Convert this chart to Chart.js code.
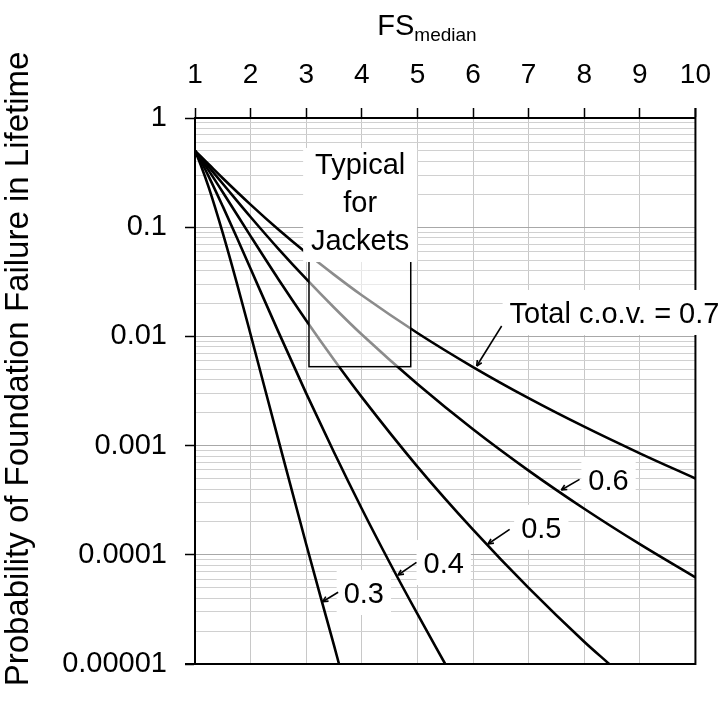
<!DOCTYPE html>
<html>
<head>
<meta charset="utf-8">
<script src="https://cdn.jsdelivr.net/npm/chart.js@4.4.1/dist/chart.umd.min.js"></script>
<style>
  body { margin: 0; background: #fff; }
  canvas { display: block; }
</style>
</head>
<body>
<canvas id="chart" width="727" height="706"></canvas>
<script>
// ===== Data =====
const xTicks = [1, 2, 3, 4, 5, 6, 7, 8, 9, 10];
const yDecades = [1, 0.1, 0.01, 0.001, 0.0001, 0.00001];
const yDecadeLabels = ["1", "0.1", "0.01", "0.001", "0.0001", "0.00001"];
const yMinor = [2, 3, 4, 5, 6, 7, 8, 9];

const fs07 = [1, 1.1, 1.25, 1.5, 2, 2.5, 3, 3.5, 4, 5, 6, 7, 8, 9, 10];
const p07 = [0.5, 0.446, 0.375, 0.281, 0.161, 0.0952, 0.0583, 0.0368, 0.0238, 0.01075, 0.00524, 0.00272, 0.00149, 0.00085, 0.0005];

const fs06 = [1, 1.1, 1.25, 1.5, 2, 2.5, 3, 3.5, 4, 5, 6, 7, 8, 9, 10];
const p06 = [0.5, 0.437, 0.355, 0.25, 0.124, 0.0634, 0.0336, 0.0184, 0.0104, 0.00366, 0.00141, 0.00059, 0.000264, 0.000125, 0.000062];

const fs05 = [1, 1.1, 1.25, 1.5, 2, 2.5, 3, 3.5, 4, 5, 6, 7, 8, 8.45];
const p05 = [0.5, 0.424, 0.328, 0.209, 0.0828, 0.0334, 0.014, 0.00611, 0.00278, 0.000643, 0.00017, 0.0000497, 0.000016, 0.00001];

const fs04 = [1, 1.1, 1.25, 1.5, 1.75, 2, 2.5, 3, 3.5, 4, 4.5, 5, 5.5];
const p04 = [0.5, 0.406, 0.289, 0.155, 0.0809, 0.0416, 0.011, 0.00301, 0.000868, 0.000264, 0.000085, 0.0000287, 0.00001];

const fs03 = [1, 1.1, 1.25, 1.5, 1.75, 2, 2.5, 3, 3.25, 3.5, 3.59];
const p03 = [0.5, 0.375, 0.229, 0.0883, 0.0311, 0.0104, 0.00113, 0.000125, 0.0000427, 0.0000148, 0.00001];

// curve labels: text, text position (FS, P at baseline), leader from -> to
const curveLabels = [
  { text: "Total c.o.v. = 0.7", x: 8.545, y: 0.01327, from: [6.515, 0.01245], to: [6.066, 0.00536] },
  { text: "0.6", x: 8.437, y: 0.000392, from: [7.916, 0.000491], to: [7.588, 0.000392] },
  { text: "0.5", x: 7.228, y: 0.000143, from: [6.659, 0.000171], to: [6.269, 0.0001256] },
  { text: "0.4", x: 5.473, y: 0.0000681, from: [4.983, 0.0000853], to: [4.652, 0.0000653] },
  { text: "0.3", x: 4.036, y: 0.0000362, from: [3.574, 0.0000454], to: [3.294, 0.0000372] }
];

// "Typical for Jackets" box
const jacketBox = { x0: 3.05, x1: 4.88, yTop: 0.06, yBottom: 0.00528 };
const jacketText = ["Typical", "for", "Jackets"];
const jacketBaselines = [0.307, 0.1378, 0.0618];
const jacketCenter = 3.97;

const FONT = "'Liberation Sans', Arial, sans-serif";

// ===== Build ticks =====
const yTickValues = [];
yDecades.forEach(d => {
  yTickValues.push(d);
  if (d < 1) yMinor.forEach(m => yTickValues.push(+(m * d).toPrecision(3)));
});

function isDecade(v) {
  const l = Math.log10(v);
  return Math.abs(l - Math.round(l)) < 1e-6;
}

function series(xs, ys) {
  return {
    data: xs.map((x, i) => ({ x, y: ys[i] })),
    borderColor: "#000",
    borderWidth: 2.6,
    pointRadius: 0,
    cubicInterpolationMode: "monotone",
    fill: false
  };
}

// ===== Annotations plugin =====
const annotations = {
  id: "annotations",
  afterDatasetsDraw(chart) {
    const c = chart.ctx;
    const xs = chart.scales.x, ys = chart.scales.y;
    const a = chart.chartArea;
    const px = v => xs.getPixelForValue(v);
    const py = v => ys.getPixelForValue(v);

    c.save();
    // right & bottom frame
    c.strokeStyle = "#000";
    c.lineWidth = 2;
    c.beginPath();
    c.moveTo(a.right, a.top - 10);
    c.lineTo(a.right, a.bottom);
    c.lineTo(a.left - 10, a.bottom);
    c.stroke();

    // jacket box (semi-transparent)
    const bx0 = px(jacketBox.x0), bx1 = px(jacketBox.x1);
    const by0 = py(jacketBox.yTop), by1 = py(jacketBox.yBottom);
    c.fillStyle = "rgba(255,255,255,0.55)";
    c.fillRect(bx0, by0, bx1 - bx0, by1 - by0);
    c.lineWidth = 1.5;
    c.strokeRect(bx0, by0, bx1 - bx0, by1 - by0);

    // jacket label
    c.font = "29px " + FONT;
    c.textAlign = "center";
    c.textBaseline = "alphabetic";
    const jc = px(jacketCenter);
    const jTop = py(jacketBaselines[0]) - 26;
    const jBot = py(jacketBaselines[2]) + 12;
    c.fillStyle = "#fff";
    c.fillRect(jc - 57, jTop, 114, jBot - jTop);
    c.fillStyle = "#000";
    jacketText.forEach((t, i) => c.fillText(t, jc, py(jacketBaselines[i])));

    // curve labels
    curveLabels.forEach(l => {
      const tx = px(l.x), ty = py(l.y);
      const w = c.measureText(l.text).width;
      c.fillStyle = "#fff";
      c.fillRect(tx - w / 2 - 7, ty - 33, w + 14, 45);
      c.fillStyle = "#000";
      c.fillText(l.text, tx, ty);

      const x1 = px(l.from[0]), y1 = py(l.from[1]);
      const x2 = px(l.to[0]), y2 = py(l.to[1]);
      c.lineWidth = 1.6;
      c.beginPath();
      c.moveTo(x1, y1);
      c.lineTo(x2, y2);
      c.stroke();
      const ang = Math.atan2(y2 - y1, x2 - x1);
      c.beginPath();
      c.moveTo(x2, y2);
      c.lineTo(x2 - 6 * Math.cos(ang - 0.45), y2 - 6 * Math.sin(ang - 0.45));
      c.moveTo(x2, y2);
      c.lineTo(x2 - 6 * Math.cos(ang + 0.45), y2 - 6 * Math.sin(ang + 0.45));
      c.stroke();
    });
    c.restore();
  },
  afterDraw(chart) {
    const c = chart.ctx;
    const a = chart.chartArea;
    c.save();
    c.fillStyle = "#000";
    // x title: FS with subscript
    c.textBaseline = "alphabetic";
    c.textAlign = "left";
    c.font = "29px " + FONT;
    const fsW = c.measureText("FS").width;
    c.font = "19px " + FONT;
    const subW = c.measureText("median").width;
    const cx = 427;
    const startX = cx - (fsW + subW) / 2;
    c.font = "29px " + FONT;
    c.fillText("FS", startX, 35);
    c.font = "19px " + FONT;
    c.fillText("median", startX + fsW, 41);

    // y title
    c.font = "33px " + FONT;
    c.translate(28, 369);
    c.rotate(-Math.PI / 2);
    c.textAlign = "center";
    c.fillText("Probability of Foundation Failure in Lifetime", 0, 0);
    c.restore();
  }
};

// ===== Chart =====
new Chart(document.getElementById("chart"), {
  type: "line",
  data: {
    datasets: [
      series(fs07, p07),
      series(fs06, p06),
      series(fs05, p05),
      series(fs04, p04),
      series(fs03, p03)
    ]
  },
  options: {
    responsive: false,
    animation: false,
    layout: { padding: { left: 0, top: 0, right: 31, bottom: 42 } },
    plugins: { legend: { display: false }, tooltip: { enabled: false } },
    scales: {
      x: {
        type: "linear",
        position: "top",
        min: 1,
        max: 10,
        afterBuildTicks: s => { s.ticks = xTicks.map(v => ({ value: v })); },
        afterFit: s => { s.height = 118; },
        ticks: {
          color: "#000",
          font: { family: FONT, size: 28 },
          padding: 16,
          maxRotation: 0,
          autoSkip: false
        },
        grid: { color: "#c8c8c8", lineWidth: 1, tickColor: "#000", tickLength: 10, tickWidth: 1.5 },
        border: { color: "#000", width: 2 }
      },
      y: {
        type: "logarithmic",
        min: 0.00001,
        max: 1,
        afterBuildTicks: s => { s.ticks = yTickValues.map(v => ({ value: v })); },
        afterFit: s => { s.width = 195; },
        ticks: {
          color: "#000",
          font: { family: FONT, size: 29 },
          padding: 18,
          autoSkip: false,
          callback: v => {
            const i = yDecades.indexOf(v);
            return i >= 0 ? yDecadeLabels[i] : "";
          }
        },
        grid: {
          color: ctx => (ctx.tick && isDecade(ctx.tick.value)) ? "#a8a8a8" : "#d0d0d0",
          tickColor: ctx => (ctx.tick && isDecade(ctx.tick.value)) ? "#000" : "rgba(0,0,0,0)",
          lineWidth: 1,
          tickLength: 10,
          tickWidth: 1.5
        },
        border: { color: "#000", width: 2 }
      }
    }
  },
  plugins: [annotations]
});
</script>
</body>
</html>
